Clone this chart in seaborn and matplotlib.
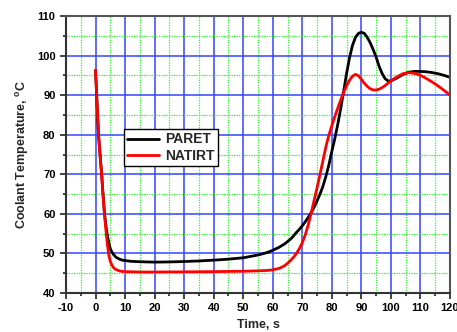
import pandas as pd
import matplotlib
matplotlib.use("Agg")
import matplotlib.pyplot as plt
from matplotlib.ticker import MultipleLocator
import seaborn as sns

# values
paret_t = [0, 0.5, 1, 1.5, 2, 2.5, 3, 3.5, 4, 4.5, 5, 5.5, 6, 6.5, 7, 8, 9, 10, 12, 15,
           20, 25, 30, 35, 40, 45, 50, 55, 58, 60, 62, 64, 66, 67, 68, 69, 70, 71, 72,
           73, 74, 75, 76, 77, 78, 79, 80, 81, 82, 83, 84, 85, 86, 87, 88, 89, 90, 91,
           92, 93, 94, 95, 96, 97, 98, 99, 100, 102, 104, 106, 108, 110, 112, 114, 116,
           118, 120]
paret_y = [96.3, 88, 80.2, 75.2, 70.7, 65.3, 60.5, 57, 54.6, 52.6, 51.2, 50.4, 49.8,
           49.4, 49.0, 48.6, 48.3, 48.2, 48.0, 47.9, 47.8, 47.85, 47.95, 48.1, 48.3,
           48.55, 48.9, 49.6, 50.2, 50.8, 51.5, 52.4, 53.6, 54.4, 55.3, 56.1, 57.0, 58.0,
           59.1, 60.3, 61.7, 63.3, 65.0, 67.0, 69.5, 72.4, 75.8, 79.0, 82.6, 86.6, 91.0,
           95.5, 99.5, 102.6, 104.6, 105.6, 105.9, 105.6, 104.6, 103.2, 101.5, 99.6, 97.3,
           95.5, 94.2, 93.6, 93.6, 94.3, 95.2, 95.8, 96.0, 96.0, 95.9, 95.7, 95.4, 95.0,
           94.5]
natirt_t = [0, 0.5, 1, 1.5, 2, 2.5, 3, 3.5, 4, 4.5, 5, 5.5, 6, 6.5, 7, 8, 9, 10, 15, 20,
            30, 40, 50, 55, 58, 60, 62, 63, 64, 65, 66, 67, 68, 69, 70, 71, 72, 73, 74,
            75, 76, 77, 78, 79, 80, 81, 82, 83, 84, 85, 86, 87, 88, 89, 90, 91, 92, 93,
            94, 95, 96, 97, 98, 100, 102, 104, 106, 108, 110, 112, 114, 116, 118, 120]
natirt_y = [96.3, 88, 80, 75, 70.5, 65, 60, 56, 52.3, 49.6, 48, 47.1, 46.5, 46.1, 45.9,
            45.6, 45.45, 45.4, 45.3, 45.3, 45.35, 45.4, 45.5, 45.6, 45.7, 45.85, 46.2,
            46.5, 46.9, 47.5, 48.2, 49.0, 50.0, 51.2, 52.7, 54.7, 57.2, 60.2, 63.4, 66.6,
            70.0, 73.5, 77.0, 79.9, 82.3, 84.6, 86.7, 88.8, 90.7, 92.4, 93.8, 94.8, 95.25,
            94.9, 94.0, 93.0, 92.2, 91.6, 91.3, 91.3, 91.5, 91.9, 92.4, 93.6, 94.6, 95.4,
            95.7, 95.5, 95.0, 94.2, 93.3, 92.3, 91.2, 90.0]

df = pd.concat([
    pd.DataFrame({"Time": paret_t, "Temp": paret_y, "Code": "PARET"}),
    pd.DataFrame({"Time": natirt_t, "Temp": natirt_y, "Code": "NATIRT"}),
])

sns.set_style("white")
plt.rcParams["font.family"] = ["Liberation Sans", "DejaVu Sans"]
plt.rcParams["font.weight"] = "bold"
plt.rcParams["axes.unicode_minus"] = False

fig = plt.figure(figsize=(4.57, 3.32), dpi=100)
ax = fig.add_axes([66 / 457, 1 - 293 / 332, 384 / 457, 277 / 332])

ax.xaxis.set_major_locator(MultipleLocator(10))
ax.xaxis.set_minor_locator(MultipleLocator(5))
ax.yaxis.set_major_locator(MultipleLocator(10))
ax.yaxis.set_minor_locator(MultipleLocator(5))
ax.grid(which="minor", color="#33ee33", linestyle=(0, (1, 1)), linewidth=0.9)
ax.grid(which="major", color="#3344ff", linestyle="-", linewidth=1.1)
ax.set_axisbelow(True)

sns.lineplot(data=df, x="Time", y="Temp", hue="Code", palette=["black", "#ff0000"],
             linewidth=2, sort=False, estimator=None, ax=ax)

ax.set_xlim(-10, 120)
ax.set_ylim(40, 110)
ax.set_xlabel("Time, s", fontsize=9, fontweight="bold", labelpad=4)
ax.set_ylabel("Coolant Temperature, $^{\\mathregular{o}}$C", fontsize=9, fontweight="bold")

ax.tick_params(which="both", direction="out", bottom=True, left=True, labelsize=8,
               width=1.2, colors="#222222")
ax.tick_params(which="major", length=4)
ax.tick_params(which="minor", length=2.5)
for lbl in ax.get_xticklabels() + ax.get_yticklabels():
    lbl.set_fontweight("bold")
    lbl.set_color("black")

for side in ["left", "bottom"]:
    ax.spines[side].set_color("#333333")
    ax.spines[side].set_linewidth(1.5)
for side in ["top", "right"]:
    ax.spines[side].set_color("#555555")
    ax.spines[side].set_linewidth(1.5)

leg = ax.legend(loc="upper left", bbox_to_anchor=((124 - 66) / 384, (293 - 129) / 277),
                frameon=True, fancybox=False, edgecolor="black",
                handlelength=2.3, borderpad=0.25, labelspacing=0.15, handletextpad=0.4,
                borderaxespad=0, prop={"weight": "bold", "size": 10})
leg.get_frame().set_linewidth(1.0)
leg.get_frame().set_alpha(1)

fig.savefig("out.png", dpi=100)
